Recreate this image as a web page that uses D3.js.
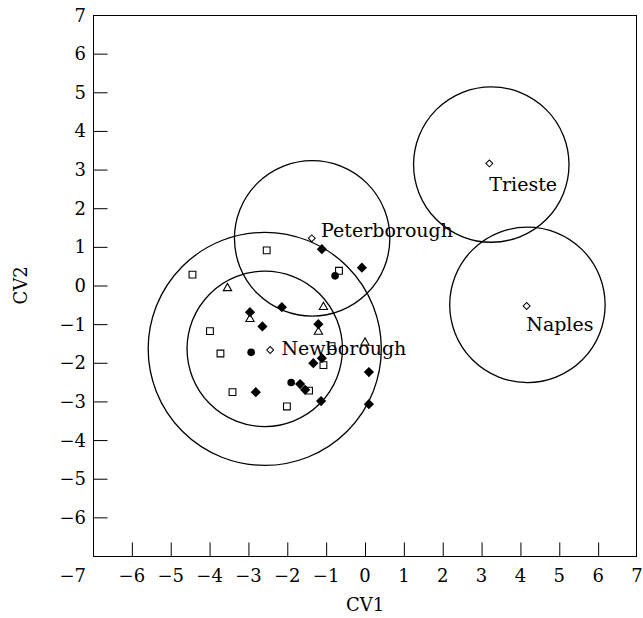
<!DOCTYPE html>
<html>
<head>
<meta charset="utf-8">
<script src="https://cdn.jsdelivr.net/npm/d3@7"></script>
<style>
  body { margin: 0; background: #fff; }
  text { font-family: "DejaVu Serif", serif; fill: #000; }
</style>
</head>
<body>
<div id="chart"></div>
<script>
// chart values
var xTickValues = [-6, -5, -4, -3, -2, -1, 0, 1, 2, 3, 4, 5, 6, 7];
var xTickLabels = ["\u22126", "\u22125", "\u22124", "\u22123", "\u22122", "\u22121", "0", "1", "2", "3", "4", "5", "6", "7"];
var yTickValues = [7, 6, 5, 4, 3, 2, 1, 0, -1, -2, -3, -4, -5, -6];
var yTickLabels = ["7", "6", "5", "4", "3", "2", "1", "0", "\u22121", "\u22122", "\u22123", "\u22124", "\u22125", "\u22126"];

var openSquares = [[-4.44, 0.28], [-2.53, 0.91], [-0.67, 0.38], [-3.99, -1.18], [-3.72, -1.76],
  [-3.41, -2.76], [-2.01, -3.13], [-1.44, -2.72], [-1.07, -2.06], [-0.86, -1.57]];
var filledDiamonds = [[-1.11, 0.94], [-0.08, 0.46], [-2.14, -0.56], [-2.96, -0.69], [-2.64, -1.06],
  [-1.20, -1.00], [-1.11, -1.88], [-1.33, -2.01], [0.10, -2.24], [-1.67, -2.55], [-1.54, -2.70],
  [-2.81, -2.76], [-1.13, -2.99], [0.10, -3.07]];
var filledCircles = [[-0.77, 0.25], [-2.93, -1.73], [-1.90, -2.51]];
var openTriangles = [[-3.54, -0.07], [-2.96, -0.87], [-1.07, -0.56], [-1.20, -1.20], [0.0, -1.48]];

var groupNames = ["Peterborough", "Newborough", "Trieste", "Naples"];
var groupMeans = [[-1.37, 1.22], [-2.44, -1.67], [3.20, 3.16], [4.16, -0.53]];
var groupLabelAt = [[-1.13, 1.26], [-2.15, -1.80], [3.20, 2.45], [4.15, -1.19]];

var ringCentres = [[-1.36, 1.22], [-2.58, -1.64], [-2.58, -1.64], [3.25, 3.13], [4.18, -0.50]];
var ringRadii = [2, 2, 3, 2, 2];

var W = 643, H = 618;
var pLeft = 93, pRight = 637, pTop = 15, pBottom = 556;

var svg = d3.select('#chart').append('svg')
  .attr('width', W)
  .attr('height', H);

var x = d3.scaleLinear().domain([-7, 7]).range([pLeft, pRight]);
var y = d3.scaleLinear().domain([-7, 7]).range([pBottom, pTop]);

// frame
svg.append('rect')
  .attr('x', pLeft + 0.5).attr('y', pTop + 0.5)
  .attr('width', pRight - pLeft - 1).attr('height', pBottom - pTop)
  .attr('fill', 'none').attr('stroke', '#000').attr('stroke-width', 1);

// ticks (pointing inward)
var tickLen = 14;
svg.append('g').attr('transform', 'translate(0,' + (pBottom + 0.5) + ')')
  .call(d3.axisTop(x).tickValues(xTickValues.slice(0, -1)).tickSize(tickLen).tickFormat(''))
  .call(function(g) { g.select('.domain').remove(); });
svg.append('g').attr('transform', 'translate(' + (pLeft + 0.5) + ',0)')
  .call(d3.axisRight(y).tickValues(yTickValues).tickSize(tickLen).tickFormat(''))
  .call(function(g) { g.select('.domain').remove(); });

// tick labels
svg.selectAll('.xlab').data(xTickValues).enter().append('text')
  .attr('class', 'xlab')
  .attr('x', function(d) { return x(d); })
  .attr('y', 582)
  .attr('text-anchor', 'middle')
  .attr('font-size', 18)
  .text(function(d, i) { return xTickLabels[i]; });

svg.selectAll('.ylab').data(yTickValues).enter().append('text')
  .attr('class', 'ylab')
  .attr('x', 86)
  .attr('y', function(d) { return y(d) + 6.5; })
  .attr('text-anchor', 'end')
  .attr('font-size', 18)
  .text(function(d, i) { return yTickLabels[i]; });

// shared corner label
svg.append('text').attr('x', 86).attr('y', 582)
  .attr('text-anchor', 'end').attr('font-size', 18).text('\u22127');

// axis titles
svg.append('text').attr('x', x(0)).attr('y', 611)
  .attr('text-anchor', 'middle').attr('font-size', 18).text('CV1');
svg.append('text')
  .attr('transform', 'translate(27,' + y(0) + ') rotate(-90)')
  .attr('text-anchor', 'middle').attr('font-size', 18).text('CV2');

// confidence rings
var unit = x(1) - x(0);
svg.selectAll('.ring').data(ringCentres).enter().append('circle')
  .attr('class', 'ring')
  .attr('cx', function(d) { return x(d[0]); })
  .attr('cy', function(d) { return y(d[1]); })
  .attr('r', function(d, i) { return ringRadii[i] * unit; })
  .attr('fill', 'none').attr('stroke', '#000').attr('stroke-width', 1.3);

function pos(d) { return 'translate(' + x(d[0]) + ',' + y(d[1]) + ')'; }

svg.selectAll('.sq').data(openSquares).enter().append('path')
  .attr('class', 'sq')
  .attr('transform', pos)
  .attr('d', d3.symbol().type(d3.symbolSquare).size(46))
  .attr('fill', '#fff').attr('stroke', '#000').attr('stroke-width', 1.1);

svg.selectAll('.tri').data(openTriangles).enter().append('path')
  .attr('class', 'tri')
  .attr('transform', pos)
  .attr('d', d3.symbol().type(d3.symbolTriangle).size(30))
  .attr('fill', '#fff').attr('stroke', '#000').attr('stroke-width', 1.1);

svg.selectAll('.dot').data(filledCircles).enter().append('path')
  .attr('class', 'dot')
  .attr('transform', pos)
  .attr('d', d3.symbol().type(d3.symbolCircle).size(46))
  .attr('fill', '#000');

svg.selectAll('.dia').data(filledDiamonds).enter().append('path')
  .attr('class', 'dia')
  .attr('transform', function(d) { return pos(d) + ' rotate(45)'; })
  .attr('d', d3.symbol().type(d3.symbolSquare).size(52))
  .attr('fill', '#000');

svg.selectAll('.mean').data(groupMeans).enter().append('path')
  .attr('class', 'mean')
  .attr('transform', function(d) { return pos(d) + ' rotate(45)'; })
  .attr('d', d3.symbol().type(d3.symbolSquare).size(24))
  .attr('fill', '#fff').attr('stroke', '#000').attr('stroke-width', 1);

svg.selectAll('.glab').data(groupLabelAt).enter().append('text')
  .attr('class', 'glab')
  .attr('x', function(d) { return x(d[0]); })
  .attr('y', function(d) { return y(d[1]); })
  .attr('font-size', 19)
  .text(function(d, i) { return groupNames[i]; });
</script>
</body>
</html>
